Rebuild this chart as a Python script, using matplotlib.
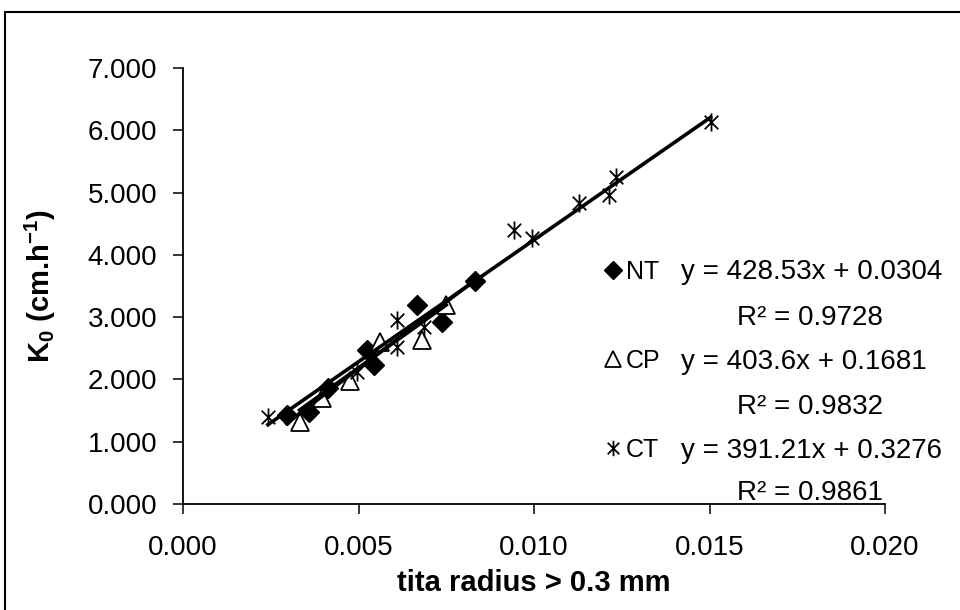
import matplotlib.pyplot as plt
import numpy as np
from matplotlib.path import Path
from matplotlib.patches import Rectangle
from matplotlib.ticker import FormatStrFormatter

plt.rcParams['font.family'] = ['Liberation Sans', 'DejaVu Sans']
plt.rcParams['mathtext.fontset'] = 'custom'
plt.rcParams['mathtext.rm'] = 'Liberation Sans'
plt.rcParams['mathtext.bf'] = 'Liberation Sans:bold'

# data
nt_x = [0.00295, 0.00360, 0.00412, 0.00523, 0.00545, 0.00668, 0.00739, 0.00832]
nt_y = [1.43, 1.48, 1.86, 2.47, 2.23, 3.19, 2.92, 3.58]

cp_x = [0.00332, 0.00395, 0.00475, 0.00560, 0.00680, 0.00750]
cp_y = [1.32, 1.70, 1.98, 2.60, 2.63, 3.19]

ct_x = [0.00242, 0.00497, 0.00610, 0.00610, 0.00688, 0.00943,
        0.00994, 0.01128, 0.01213, 0.01233, 0.01503]
ct_y = [1.40, 2.12, 2.52, 2.95, 2.84, 4.40, 4.27, 4.83, 4.96, 5.25, 6.13]

# trend lines as printed on the chart
names = ["NT", "CP", "CT"]
slopes = [428.53, 403.6, 391.21]
intercepts = [0.0304, 0.1681, 0.3276]
eq_text = ["y = 428.53x + 0.0304", "y = 403.6x + 0.1681", "y = 391.21x + 0.3276"]
r2_text = ["R² = 0.9728", "R² = 0.9832", "R² = 0.9861"]

x_ticks = [0.0, 0.005, 0.010, 0.015, 0.020]
y_ticks = [0, 1, 2, 3, 4, 5, 6, 7]

W, H = 960, 610
def fx(px):
    return px / W
def fy(py):
    return 1 - py / H

fig = plt.figure(figsize=(9.6, 6.1), dpi=100)
ax = fig.add_axes([fx(183), fy(504), (885 - 183) / W, (504 - 68) / H])

# outer chart border (right/bottom fall outside the image)
fig.patches.append(Rectangle((fx(5), -0.2), 1.5, fy(12) + 0.2, transform=fig.transFigure,
                             fill=False, edgecolor='black', linewidth=1.5, clip_on=False))

star = Path([(0, -1), (0, 1), (-0.75, -0.75), (0.75, 0.75), (-0.75, 0.75), (0.75, -0.75)],
            [Path.MOVETO, Path.LINETO, Path.MOVETO, Path.LINETO, Path.MOVETO, Path.LINETO])

h_nt, = ax.plot(nt_x, nt_y, ls='none', marker='D', ms=10.5, mfc='black', mec='black', zorder=2)
h_cp, = ax.plot(cp_x, cp_y, ls='none', marker='^', ms=13, mfc='white', mec='black', mew=1.3, zorder=2)
h_ct, = ax.plot(ct_x, ct_y, ls='none', marker=star, ms=13, mfc='none', mec='black', mew=1.3, zorder=2)

for xs, a, b in zip([nt_x, cp_x, ct_x], slopes, intercepts):
    xx = np.array([min(xs), max(xs)])
    ax.plot(xx, a * xx + b, color='black', lw=2.6, zorder=3)

ax.set_xlim(0, 0.020)
ax.set_ylim(0, 7)
ax.set_xticks(x_ticks)
ax.set_yticks(y_ticks)
ax.xaxis.set_major_formatter(FormatStrFormatter('%.3f'))
ax.yaxis.set_major_formatter(FormatStrFormatter('%.3f'))
ax.tick_params(direction='out', length=7.5, width=1.1, labelsize=20, colors='black')
ax.tick_params(axis='x', pad=15)
ax.tick_params(axis='y', pad=11)
for s in ['top', 'right']:
    ax.spines[s].set_visible(False)
for s in ['left', 'bottom']:
    ax.spines[s].set_linewidth(1.3)

ax.set_xlabel("tita radius > 0.3 mm", fontsize=21, fontweight='bold', va='center')
ax.xaxis.set_label_coords(0.5, -(583 - 504) / 436)
ax.set_ylabel(r"K$_\mathbf{0}$ (cm.h$^{\mathbf{-1}}$)", fontsize=21, fontweight='bold', va='center')
ax.yaxis.set_label_coords((40 - 183) / 702, 0.5)

leg = fig.legend([h_nt, h_cp, h_ct], names, loc='upper left',
                 bbox_to_anchor=(fx(603), fy(260)), frameon=False, fontsize=18,
                 handlelength=0.8, handletextpad=0.1, borderpad=0, borderaxespad=0,
                 labelspacing=2.6, markerscale=0.85)

for i, (eq, r2) in enumerate(zip(eq_text, r2_text)):
    yrow = [272, 362, 451][i]
    yr2 = [318, 407, 493][i]
    fig.text(fx(681), fy(yrow), eq, fontsize=20, va='center', ha='left')
    fig.text(fx(737), fy(yr2), r2, fontsize=20, va='center', ha='left')

fig.savefig("out.png", dpi=100)
